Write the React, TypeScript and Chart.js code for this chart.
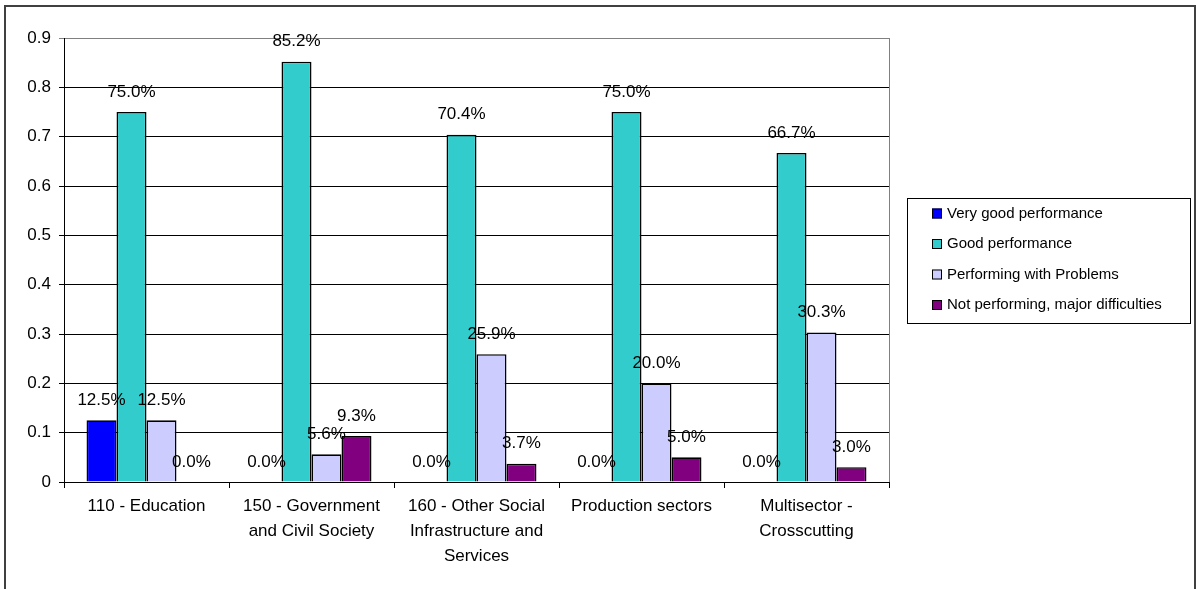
import React, { useEffect, useRef } from "react";
import { Chart, registerables } from "chart.js";

Chart.register(...registerables);

const categories: (string | string[])[] = [
  "110 - Education",
  ["150 - Government", "and Civil Society"],
  ["160 - Other Social", "Infrastructure and", "Services"],
  "Production sectors",
  ["Multisector -", "Crosscutting"],
];

const seriesNames = [
  "Very good performance",
  "Good performance",
  "Performing with Problems",
  "Not performing, major difficulties",
];

const veryGood = [0.125, 0, 0, 0, 0];
const good = [0.75, 0.852, 0.704, 0.75, 0.667];
const problems = [0.125, 0.056, 0.259, 0.2, 0.303];
const notPerforming = [0, 0.093, 0.037, 0.05, 0.03];

const seriesColors = ["#0000FF", "#33CCCC", "#CCCCFF", "#800080"];

const yTicks = [0, 0.1, 0.2, 0.3, 0.4, 0.5, 0.6, 0.7, 0.8, 0.9];

const FONT = "'Liberation Sans', Arial, sans-serif";

const frameAndBorder = {
  id: "frameAndBorder",
  beforeDatasetsDraw(chart: any) {
    const { ctx, chartArea } = chart;
    ctx.save();
    ctx.strokeStyle = "#808080";
    ctx.lineWidth = 1;
    ctx.beginPath();
    ctx.moveTo(Math.round(chartArea.right) + 0.5, chartArea.top);
    ctx.lineTo(Math.round(chartArea.right) + 0.5, chartArea.bottom);
    ctx.stroke();
    ctx.restore();
  },
  afterDraw(chart: any) {
    const { ctx } = chart;
    ctx.save();
    ctx.strokeStyle = "#404040";
    ctx.lineWidth = 2;
    ctx.beginPath();
    ctx.moveTo(5, 700);
    ctx.lineTo(5, 6);
    ctx.lineTo(1195, 6);
    ctx.lineTo(1195, 700);
    ctx.stroke();
    ctx.restore();
  },
};

const valueLabels = {
  id: "valueLabels",
  afterDatasetsDraw(chart: any) {
    const { ctx } = chart;
    ctx.save();
    ctx.font = `17px ${FONT}`;
    ctx.fillStyle = "#000";
    ctx.textAlign = "center";
    ctx.textBaseline = "middle";
    chart.data.datasets.forEach((ds: any, di: number) => {
      const meta = chart.getDatasetMeta(di);
      meta.data.forEach((el: any, i: number) => {
        const v = ds.data[i] as number;
        ctx.fillText((v * 100).toFixed(1) + "%", el.x, el.y - 20);
      });
    });
    ctx.restore();
  },
};

const boxLegend = {
  id: "boxLegend",
  afterDraw(chart: any) {
    const { ctx } = chart;
    ctx.save();
    ctx.strokeStyle = "#000";
    ctx.lineWidth = 1;
    ctx.strokeRect(907.5, 198.5, 283, 125);
    ctx.font = `15px ${FONT}`;
    ctx.textAlign = "left";
    ctx.textBaseline = "middle";
    const rows = [213.5, 244, 274.5, 305];
    chart.data.datasets.forEach((ds: any, i: number) => {
      const cy = rows[i];
      ctx.fillStyle = ds.backgroundColor;
      ctx.fillRect(932, cy - 5, 10, 10);
      ctx.strokeStyle = "#000";
      ctx.lineWidth = 1;
      ctx.strokeRect(932.5, cy - 4.5, 9, 9);
      ctx.fillStyle = "#000";
      ctx.fillText(ds.label, 947, cy);
    });
    ctx.restore();
  },
};

export default function App() {
  const ref = useRef<HTMLCanvasElement>(null);

  useEffect(() => {
    if (!ref.current) return;
    Chart.defaults.font.family = FONT;
    const seriesData = [veryGood, good, problems, notPerforming];
    const chart = new Chart(ref.current, {
      type: "bar",
      data: {
        labels: categories,
        datasets: seriesData.map((d, i) => ({
          label: seriesNames[i],
          data: d,
          backgroundColor: seriesColors[i],
          borderColor: "#000",
          borderWidth: 1.6,
          categoryPercentage: 0.727,
          barPercentage: 1,
        })),
      },
      options: {
        responsive: false,
        animation: false,
        devicePixelRatio: 1,
        layout: { padding: { top: 38, right: 307, left: 0, bottom: 0 } },
        plugins: {
          legend: { display: false },
          tooltip: { enabled: false },
        },
        scales: {
          x: {
            offset: true,
            grid: {
              drawOnChartArea: false,
              drawTicks: true,
              tickLength: 6,
              color: "#000",
            },
            border: { display: true, color: "#000" },
            ticks: {
              color: "#000",
              font: { size: 17, lineHeight: 1.47 },
              padding: 6,
              maxRotation: 0,
              autoSkip: false,
            },
            afterFit(scale: any) {
              scale.height = 107;
            },
          },
          y: {
            min: 0,
            max: 0.9,
            afterBuildTicks(scale: any) {
              scale.ticks = yTicks.map((v) => ({ value: v }));
            },
            grid: {
              color: (c: any) =>
                c.tick && Math.abs(c.tick.value - 0.9) < 1e-9 ? "#808080" : "#000",
              tickLength: 5,
            },
            border: { display: true, color: "#000" },
            ticks: {
              color: "#000",
              font: { size: 17 },
              padding: 8,
              callback: (v: any) => (Number(v) === 0 ? "0" : Number(v).toFixed(1)),
            },
            afterFit(scale: any) {
              scale.width = 64;
            },
          },
        },
      },
      plugins: [frameAndBorder, valueLabels, boxLegend],
    });
    return () => chart.destroy();
  }, []);

  return (
    <div style={{ position: "absolute", left: 0, top: 0, width: 1196, height: 589, background: "#fff" }}>
      <canvas ref={ref} width={1196} height={589} style={{ display: "block" }} />
    </div>
  );
}
